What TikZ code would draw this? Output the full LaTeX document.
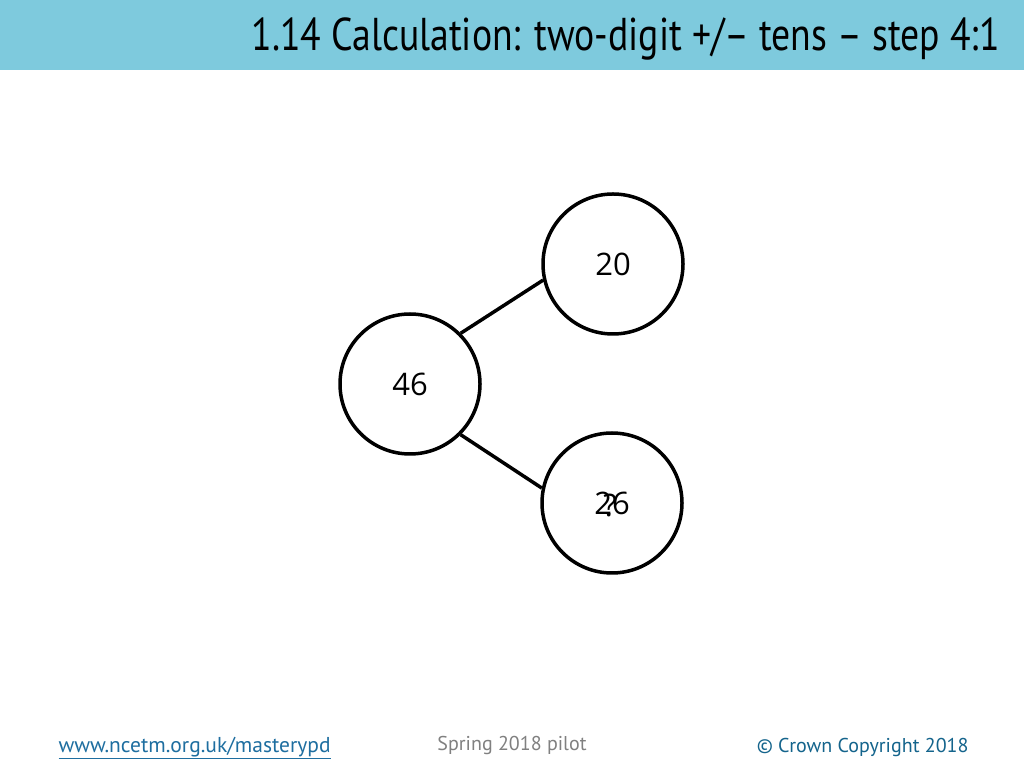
\documentclass[tikz,border=0pt]{standalone}
\usepackage{fontspec}
\setmainfont{Open Sans}
\newfontfamily\titlefont{PT Sans}
\newfontfamily\titlecond[FakeStretch=0.82]{PT Sans}
\definecolor{hdr}{RGB}{126,202,221}
\definecolor{linkblue}{RGB}{30,110,160}
\definecolor{footgrey}{RGB}{128,128,128}
\definecolor{copyblue}{RGB}{20,100,140}
\tikzset{
  bond/.style={draw=black, line width=3.5pt, circle, minimum size=140pt, inner sep=0pt, font=\fontsize{31}{31}\selectfont},
  conn/.style={line width=3.5pt, black},
  foot/.style={font=\titlefont\fontsize{20}{20}\selectfont, anchor=base}
}
\begin{document}
\begin{tikzpicture}[x=1pt,y=1pt]
\useasboundingbox (0,0) rectangle (1024,768);
\fill[white] (0,0) rectangle (1024,768);
\fill[hdr] (0,698) rectangle (1024,768);
\node[anchor=base east, inner sep=0pt, font=\titlecond\fontsize{46}{46}\selectfont] (title) at (1000,717) {1.14 Calculation: two-digit +/– tens – step 4:1};
\node[bond] (t) at (613,504) {20};
\node[bond] (m) at (410,384) {46};
\node[bond] (b) at (612,265) {26};
\node[font=\fontsize{31}{31}\selectfont, inner sep=0pt] (q) at (610,263) {?};
\draw[conn] (m.45) -- (t.193);
\draw[conn] (m.315) -- (b.168);
\node[foot, text=linkblue, anchor=base west, font=\titlefont\fontsize{21.5}{21.5}\selectfont] (l1) at (55,16) {\underline{www.ncetm.org.uk/masterypd}};
\node[foot, text=footgrey] (l2) at (512,18) {Spring 2018 pilot};
\node[foot, text=copyblue, anchor=base east] (l3) at (972,16) {© Crown Copyright 2018};
\end{tikzpicture}
\end{document}
